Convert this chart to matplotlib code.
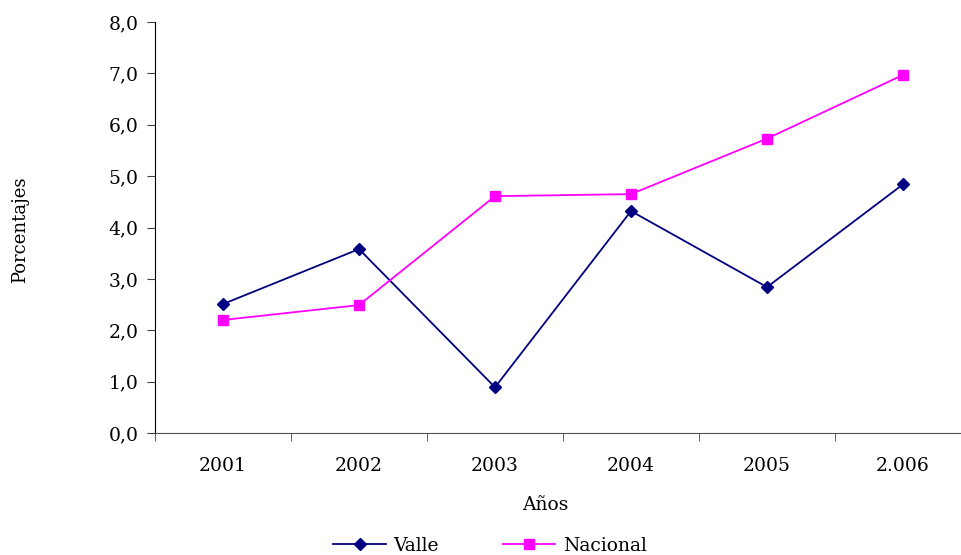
import matplotlib.pyplot as plt

years = ["2001", "2002", "2003", "2004", "2005", "2.006"]
valle = [2.51, 3.58, 0.89, 4.32, 2.84, 4.84]
nacional = [2.20, 2.49, 4.61, 4.65, 5.73, 6.97]

plt.rcParams["font.family"] = ["DejaVu Serif"]

fig = plt.figure(figsize=(9.61, 5.55), dpi=100)
W, H = 961, 555
ax = fig.add_axes([155 / W, (H - 433) / H, (971 - 155) / W, (433 - 22) / H])

x = list(range(len(years)))
ax.plot(x, valle, color="#000080", marker="D", markersize=6.5, linewidth=1.3, label="Valle")
ax.plot(x, nacional, color="#FF00FF", marker="s", markersize=7, linewidth=1.3, label="Nacional")

ax.set_xlim(-0.5, 5.5)
ax.set_ylim(0, 8)
ax.set_yticks(range(0, 9))
ax.set_yticklabels([f"{v},0" for v in range(0, 9)], fontsize=13.5)

# category labels centred, tick marks on the boundaries
ax.set_xticks(x)
ax.set_xticklabels(years, fontsize=13.5)
ax.tick_params(axis="x", length=0, pad=17)
ax.set_xticks([i + 0.5 for i in range(-1, 6)], minor=True)
ax.tick_params(axis="x", which="minor", length=6, color="#404040", direction="out")
ax.tick_params(axis="y", length=6, color="#404040", direction="out", pad=6)

for s in ["top", "right"]:
    ax.spines[s].set_visible(False)
ax.spines["left"].set_color("black")
ax.spines["bottom"].set_color("#505050")

fig.text(545 / W, 1 - 505 / H, "Años", ha="center", va="center", fontsize=13.5)
fig.text(20 / W, 1 - 230 / H, "Porcentajes", ha="center", va="center", rotation=90, fontsize=13)

fig.legend(loc="center", bbox_to_anchor=(490 / W, 1 - 546 / H), ncol=2, frameon=False,
           fontsize=13.5, handlelength=2.8, columnspacing=3.4, handletextpad=0.4)

fig.savefig("out.png", dpi=100)
